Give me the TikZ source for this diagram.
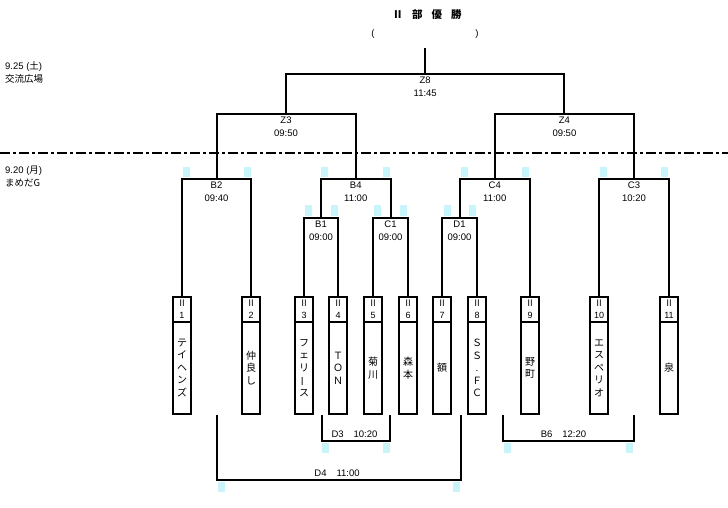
\documentclass[tikz,border=0pt]{standalone}
\usepackage{fontspec}
\setmainfont{Liberation Sans}
\newfontfamily\jp{Noto Sans CJK JP}
\usetikzlibrary{calc}
\definecolor{marker}{RGB}{200,245,250}
\begin{document}
\begin{tikzpicture}[x=1pt,y=-1pt,
  bline/.style={line width=2pt},
  thinline/.style={line width=1.1pt},
  hdr/.style={draw,line width=2pt,outer sep=0pt,inner sep=0pt,minimum width=18pt,minimum height=25pt,anchor=north,align=center,font=\fontsize{9}{12}\selectfont},
  namebox/.style={draw,line width=2pt,outer sep=0pt,inner sep=0pt,minimum width=18pt,minimum height=92pt,anchor=north,align=center,font=\jp\fontsize{10}{12.5}\selectfont},
  lbl/.style={font=\fontsize{9.5}{13}\selectfont,align=center,inner sep=0pt},
  side/.style={font=\fontsize{9.5}{13}\selectfont,align=left,inner sep=0pt,anchor=north west}
]
\useasboundingbox (0,0) rectangle (728,507);

% markers
\foreach \x in {186,247,324,386,464,525,603,664} \fill[marker] (\x-3.5,167) rectangle ++(7,10);
\foreach \x in {308,334,377,403,447,472} \fill[marker] (\x-3.5,205) rectangle ++(7,11);
\foreach \x in {325,386,507,629} \fill[marker] (\x-3.5,443) rectangle ++(7,10);
\foreach \x in {221,456} \fill[marker] (\x-3.5,482) rectangle ++(7,10);

% day separator
\coordinate (sepL) at (0,153);
\coordinate (sepR) at (728,153);
\draw[line width=2pt,dash pattern=on 10pt off 3pt on 3pt off 3pt] (sepL) -- (sepR);

% title
\node[font=\jp\bfseries\fontsize{10.5}{12}\selectfont,inner sep=0pt] (title) at (427,15) {Ⅱ\hspace{9pt}部\hspace{9pt}優\hspace{9pt}勝};
\node[font=\fontsize{9.5}{12}\selectfont,inner sep=0pt] (lp) at (373,34) {(};
\node[font=\fontsize{9.5}{12}\selectfont,inner sep=0pt] (rp) at (477,34) {)};

% side labels
\node[side] (day1) at (5,61) {9.25 ({\jp 土})\\{\jp 交流広場}};
\node[side] (day2) at (5,166) {9.20 ({\jp 月})\\{\jp まめだG}};

% teams
\node[hdr] (h1) at (182,297) {{\jp Ⅱ}\\1};
\node[namebox] (n1) at (h1.south) {テ\\イ\\ヘ\\ン\\ズ};
\node[hdr] (h2) at (251,297) {{\jp Ⅱ}\\2};
\node[namebox] (n2) at (h2.south) {仲\\良\\し};
\node[hdr] (h3) at (304,297) {{\jp Ⅱ}\\3};
\node[namebox] (n3) at (h3.south) {フ\\ェ\\リ\\\rotatebox[origin=c]{90}{ー}\\ス};
\node[hdr] (h4) at (338,297) {{\jp Ⅱ}\\4};
\node[namebox] (n4) at (h4.south) {Ｔ\\Ｏ\\Ｎ};
\node[hdr] (h5) at (373,297) {{\jp Ⅱ}\\5};
\node[namebox] (n5) at (h5.south) {菊\\川};
\node[hdr] (h6) at (408,297) {{\jp Ⅱ}\\6};
\node[namebox] (n6) at (h6.south) {森\\本};
\node[hdr] (h7) at (442,297) {{\jp Ⅱ}\\7};
\node[namebox] (n7) at (h7.south) {額};
\node[hdr] (h8) at (477,297) {{\jp Ⅱ}\\8};
\node[namebox] (n8) at (h8.south) {Ｓ\\Ｓ\\{\rmfamily .}\\Ｆ\\Ｃ};
\node[hdr] (h9) at (530,297) {{\jp Ⅱ}\\9};
\node[namebox] (n9) at (h9.south) {野\\町};
\node[hdr] (h10) at (599,297) {{\jp Ⅱ}\\10};
\node[namebox] (n10) at (h10.south) {エ\\ス\\ペ\\リ\\オ};
\node[hdr] (h11) at (669,297) {{\jp Ⅱ}\\11};
\node[namebox] (n11) at (h11.south) {泉};

% match points
\coordinate (D1) at (459.5,218);
\coordinate (B1) at (321,218);
\coordinate (C1) at (390.5,218);
\coordinate (B2) at (216.5,179);
\coordinate (B4) at (355.75,179);
\coordinate (C4) at (494.75,179);
\coordinate (C3) at (634,179);
\coordinate (Z3) at (286,114);
\coordinate (Z4) at (564.4,114);
\coordinate (Z8) at (425.2,74);
\coordinate (win) at (425.2,48);

\draw[bline] (h3.north) |- (B1) -| (h4.north);
\draw[bline] (h5.north) |- (C1) -| (h6.north);
\draw[bline] (h7.north) |- (D1) -| (h8.north);
\draw[bline] (h1.north) |- (B2) -| (h2.north);
\draw[bline] (B1) |- (B4) -| (C1);
\draw[bline] (D1) |- (C4) -| (h9.north);
\draw[bline] (h10.north) |- (C3) -| (h11.north);
\draw[bline] (B2) |- (Z3) -| (B4);
\draw[bline] (C4) |- (Z4) -| (C3);
\draw[bline] (Z3) |- (Z8) -| (Z4);
\draw[bline] (Z8) -- (win);

% match labels
\node[lbl,below=3pt] (lB1) at (B1) {B1\\09:00};
\node[lbl,below=3pt] (lC1) at (C1) {C1\\09:00};
\node[lbl,below=3pt] (lD1) at (D1) {D1\\09:00};
\node[lbl,below=3pt] (lB2) at (B2) {B2\\09:40};
\node[lbl,below=3pt] (lB4) at (B4) {B4\\11:00};
\node[lbl,below=3pt] (lC4) at (C4) {C4\\11:00};
\node[lbl,below=3pt] (lC3) at (C3) {C3\\10:20};
\node[lbl,below=3pt] (lZ3) at (Z3) {Z3\\09:50};
\node[lbl,below=3pt] (lZ4) at (Z4) {Z4\\09:50};
\node[lbl,below=3pt] (lZ8) at (Z8) {Z8\\11:45};

% lower brackets
\coordinate (d3a) at (322,415);
\coordinate (d3b) at (390,415);
\coordinate (D3) at (356,441);
\draw[thinline] (d3a) |- (D3) -| (d3b);
\node[lbl,anchor=base] (lD3) at (354.5,437.5) {D3\hspace{10pt}10:20};

\coordinate (d4a) at (217,415);
\coordinate (d4b) at (461,415);
\coordinate (D4) at (339,480);
\draw[thinline] (d4a) |- (D4) -| (d4b);
\node[lbl,anchor=base] (lD4) at (337,476.5) {D4\hspace{10pt}11:00};

\coordinate (b6a) at (503,415);
\coordinate (b6b) at (634,415);
\coordinate (B6) at (568.5,441);
\draw[thinline] (b6a) |- (B6) -| (b6b);
\node[lbl,anchor=base] (lB6) at (563.5,437.5) {B6\hspace{10pt}12:20};
\end{tikzpicture}
\end{document}
